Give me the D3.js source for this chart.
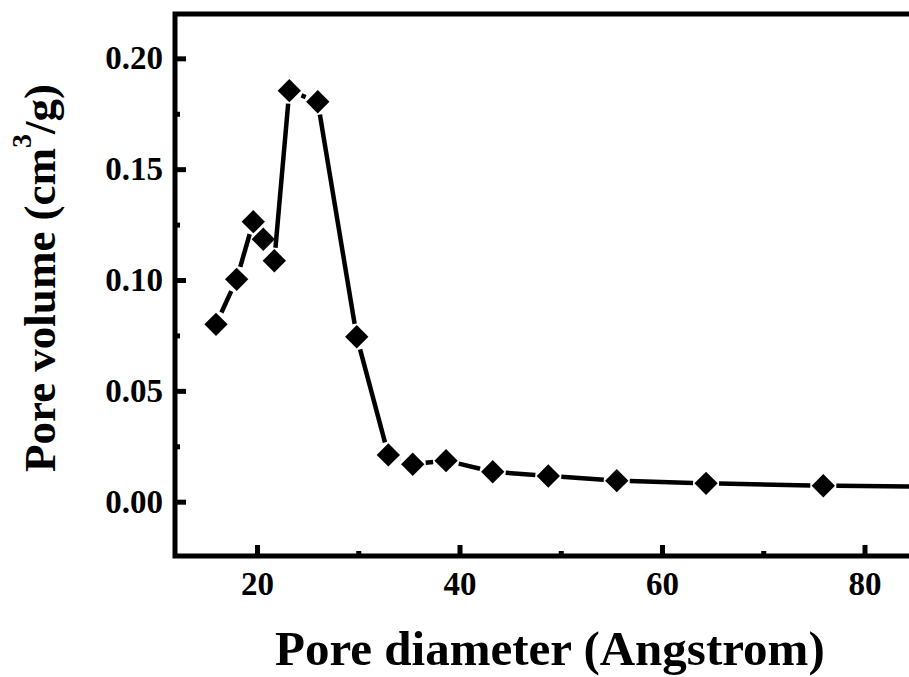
<!DOCTYPE html>
<html lang="en">
<head>
    <meta charset="UTF-8">
    <title>Pore size distribution</title>
    <style>
        body { margin: 0; background: #fff; }
        svg { display: block; }
        text { font-family: "Liberation Serif", "Times New Roman", serif; font-weight: bold; fill: #000; }
    </style>
</head>
<body>
    <div class="chart"></div>

    <script src="https://d3js.org/d3.v7.min.js"></script>
    <script>
        // data
        var diameter = [15.95, 17.99, 19.63, 20.62, 21.71, 23.19, 26.0, 29.85, 32.97, 35.38, 38.67, 43.28, 48.77, 55.53, 64.35, 75.93, 92.0]
        var volume   = [0.0800, 0.1003, 0.1263, 0.1184, 0.1087, 0.1854, 0.1804, 0.0744, 0.0211, 0.0169, 0.0185, 0.0135, 0.0116, 0.0095, 0.0083, 0.0072, 0.0066]

        var xTicks = [20, 40, 60, 80]
        var xMinor = [30, 50, 70, 90]
        var yTicks = [0.00, 0.05, 0.10, 0.15, 0.20]
        var yMinor = [0.025, 0.075, 0.125, 0.175]

        var width = 909
        var height = 677
        var plotLeft = 175, plotTop = 14, plotBottom = 556

        var svg = d3.select(".chart").append("svg")
            .attr("width", width)
            .attr("height", height)

        var x = d3.scaleLinear().domain([11.9, 90]).range([plotLeft, plotLeft + 78.1 * 10.125])
        var y = d3.scaleLinear().domain([-0.0245, 0.22]).range([plotBottom, plotTop])

        // axes, ticks point inward
        svg.append("g")
            .attr("transform", "translate(0," + plotBottom + ")")
            .call(d3.axisBottom(x).tickValues(xTicks).tickSize(-11).tickPadding(16).tickFormat(d3.format("d")))
        svg.append("g")
            .attr("transform", "translate(0," + plotBottom + ")")
            .call(d3.axisBottom(x).tickValues(xMinor).tickSize(-5).tickFormat(""))

        svg.append("g")
            .attr("transform", "translate(" + plotLeft + ",0)")
            .call(d3.axisLeft(y).tickValues(yTicks).tickSize(-11).tickPadding(12).tickFormat(d3.format(".2f")))
        svg.append("g")
            .attr("transform", "translate(" + plotLeft + ",0)")
            .call(d3.axisLeft(y).tickValues(yMinor).tickSize(-5).tickFormat(""))

        svg.selectAll(".domain").remove()
        svg.selectAll(".tick line").attr("stroke", "#000").attr("stroke-width", 5)
        svg.selectAll(".tick text").style("font-size", "33px")

        // frame
        svg.append("path")
            .attr("d", "M" + (plotLeft - 2.5) + "," + plotTop + "H" + width +
                       "M" + plotLeft + "," + (plotTop - 2.5) + "V" + (plotBottom + 2.5) +
                       "M" + (plotLeft - 2.5) + "," + plotBottom + "H" + width)
            .attr("stroke", "#000")
            .attr("stroke-width", 5)
            .attr("fill", "none")

        // line segments with gaps around symbols
        var pts = diameter.map(function(d, i) { return [x(d), y(volume[i])] })
        var gap = 13
        var segs = []
        for (var i = 0; i < pts.length - 1; i++) {
            var a = pts[i], b = pts[i + 1]
            var dx = b[0] - a[0], dy = b[1] - a[1]
            var len = Math.sqrt(dx * dx + dy * dy)
            if (len <= 2 * gap) continue
            var ux = dx / len, uy = dy / len
            segs.push([[a[0] + ux * gap, a[1] + uy * gap], [b[0] - ux * gap, b[1] - uy * gap]])
        }
        svg.selectAll("line.seg")
            .data(segs)
            .enter()
            .append("line")
            .attr("class", "seg")
            .attr("x1", function(d) { return d[0][0] })
            .attr("y1", function(d) { return d[0][1] })
            .attr("x2", function(d) { return d[1][0] })
            .attr("y2", function(d) { return d[1][1] })
            .attr("stroke", "#000")
            .attr("stroke-width", 4.5)

        svg.selectAll("path.pt")
            .data(pts)
            .enter()
            .append("path")
            .attr("class", "pt")
            .attr("d", d3.symbol().type(d3.symbolSquare).size(272))
            .attr("transform", function(d) { return "translate(" + d[0] + "," + d[1] + ") rotate(45)" })
            .attr("fill", "#000")

        // axis titles
        svg.append("text")
            .attr("x", 275)
            .attr("y", 665)
            .style("font-size", "49px")
            .text("Pore diameter (Angstrom)")

        var yt = svg.append("text")
            .attr("transform", "translate(55,472) rotate(-90)")
            .style("font-size", "45px")
        yt.append("tspan").text("Pore volume (cm")
        yt.append("tspan").attr("dy", "-0.85em").style("font-size", "28px").text("3")
        yt.append("tspan").attr("dy", "0.53em").text("/g)")
    </script>
</body>
</html>
